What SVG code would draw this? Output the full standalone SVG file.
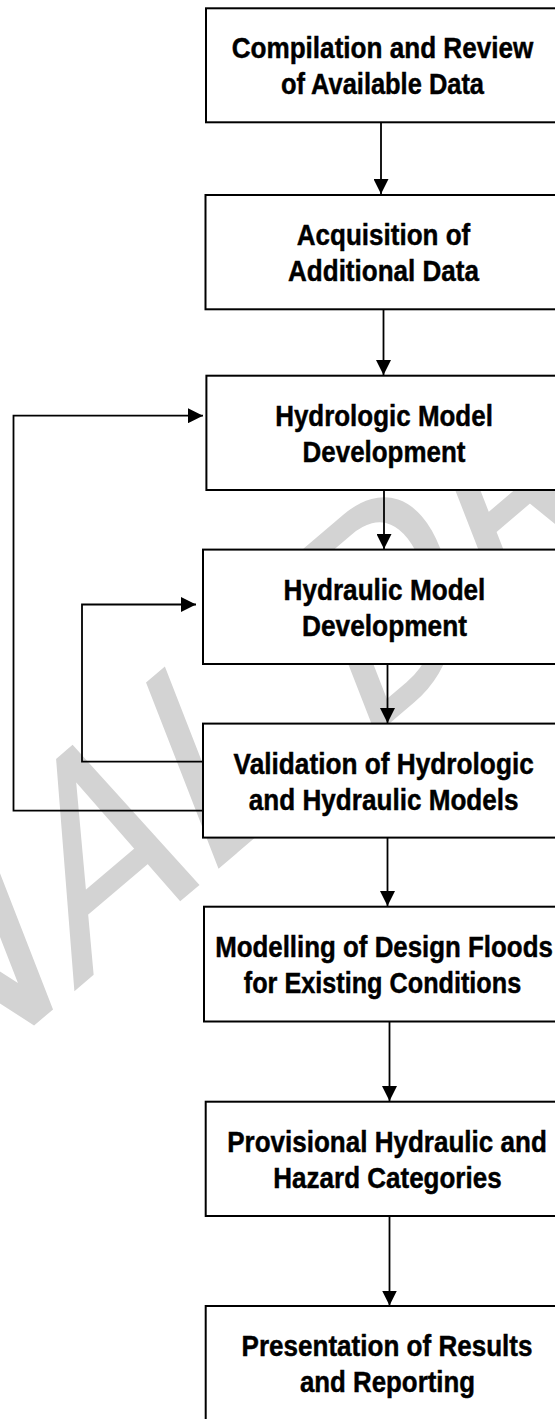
<svg xmlns="http://www.w3.org/2000/svg" width="555" height="1419" viewBox="0 0 555 1419">
  <defs>
    <style>
      .box { fill: #ffffff; stroke: #000000; stroke-width: 2; }
      .lbl { font-family: "Liberation Sans", Arial, sans-serif; font-weight: bold; font-size: 29.5px; fill: #000000; stroke: #000000; stroke-width: 0.45; text-anchor: middle; }
      .wire { fill: none; stroke: #000000; stroke-width: 1.8; }
      .mark { font-family: Roboto, "Liberation Sans", Arial, sans-serif; font-weight: 400; font-size: 100px; fill: #d3d3d3; }
    </style>
    <marker id="head" markerUnits="userSpaceOnUse" markerWidth="15" markerHeight="15" refX="15" refY="7.5" orient="auto">
      <path d="M0,0 L15,7.5 L0,15 Z" fill="#000000"/>
    </marker>
  </defs>

  <rect x="0" y="0" width="555" height="1419" fill="#ffffff"/>

  <!-- diagonal watermark behind the chart -->
  <g id="watermark">
    <text class="mark" transform="matrix(2.00,-1.70,1.02,2.62,-237.8,1256.6)" x="0" y="0">FINAL DRAFT</text>
  </g>

  <!-- connectors -->
  <g id="connectors">
    <line class="wire" x1="381" y1="122" x2="381" y2="194" marker-end="url(#head)"/>
    <line class="wire" x1="383.5" y1="309" x2="383.5" y2="375" marker-end="url(#head)"/>
    <line class="wire" x1="384" y1="490" x2="384" y2="549" marker-end="url(#head)"/>
    <line class="wire" x1="387.5" y1="664" x2="387.5" y2="723" marker-end="url(#head)"/>
    <line class="wire" x1="387.5" y1="837.5" x2="387.5" y2="906" marker-end="url(#head)"/>
    <line class="wire" x1="389.5" y1="1021.5" x2="389.5" y2="1101" marker-end="url(#head)"/>
    <line class="wire" x1="389.5" y1="1216" x2="389.5" y2="1305.5" marker-end="url(#head)"/>
    <polyline class="wire" points="204,810.7 13.5,810.7 13.5,415.7 203,415.7" marker-end="url(#head)"/>
    <polyline class="wire" points="202,761.7 82,761.7 82,604.5 196,604.5" marker-end="url(#head)"/>
  </g>

  <g id="n1">
    <rect class="box" x="206" y="8.3" width="360" height="114"/>
    <text class="lbl" x="382.5" y="58.3" textLength="301.6" lengthAdjust="spacingAndGlyphs">Compilation and Review</text>
    <text class="lbl" x="382.5" y="94.3" textLength="203" lengthAdjust="spacingAndGlyphs">of Available Data</text>
  </g>

  <g id="n2">
    <rect class="box" x="205.5" y="195" width="360" height="114.3"/>
    <text class="lbl" x="383.5" y="245" textLength="173.5" lengthAdjust="spacingAndGlyphs">Acquisition of</text>
    <text class="lbl" x="383.5" y="281" textLength="191" lengthAdjust="spacingAndGlyphs">Additional Data</text>
  </g>

  <g id="n3">
    <rect class="box" x="206.4" y="375.7" width="360" height="114.3"/>
    <text class="lbl" x="384" y="425.7" textLength="217.7" lengthAdjust="spacingAndGlyphs">Hydrologic Model</text>
    <text class="lbl" x="384" y="461.7" textLength="162.8" lengthAdjust="spacingAndGlyphs">Development</text>
  </g>

  <g id="n4">
    <rect class="box" x="203" y="549.6" width="360" height="114.4"/>
    <text class="lbl" x="384.5" y="599.6" textLength="201.8" lengthAdjust="spacingAndGlyphs">Hydraulic Model</text>
    <text class="lbl" x="384.5" y="635.6" textLength="165" lengthAdjust="spacingAndGlyphs">Development</text>
  </g>

  <g id="n5">
    <rect class="box" x="203" y="723.6" width="360" height="114"/>
    <text class="lbl" x="383.7" y="773.6" textLength="300.2" lengthAdjust="spacingAndGlyphs">Validation of Hydrologic</text>
    <text class="lbl" x="383.7" y="809.6" textLength="269.7" lengthAdjust="spacingAndGlyphs">and Hydraulic Models</text>
  </g>

  <g id="n6">
    <rect class="box" x="204" y="906.7" width="360" height="114.8"/>
    <text class="lbl" x="384" y="956.7" textLength="337.7" lengthAdjust="spacingAndGlyphs">Modelling of Design Floods</text>
    <text class="lbl" x="382.5" y="992.7" textLength="277.4" lengthAdjust="spacingAndGlyphs">for Existing Conditions</text>
  </g>

  <g id="n7">
    <rect class="box" x="205.7" y="1101.7" width="360" height="114.3"/>
    <text class="lbl" x="387" y="1151.7" textLength="319.6" lengthAdjust="spacingAndGlyphs">Provisional Hydraulic and</text>
    <text class="lbl" x="387.5" y="1187.7" textLength="228.3" lengthAdjust="spacingAndGlyphs">Hazard Categories</text>
  </g>

  <g id="n8">
    <rect class="box" x="205.7" y="1306" width="360" height="130"/>
    <text class="lbl" x="387" y="1356" textLength="291" lengthAdjust="spacingAndGlyphs">Presentation of Results</text>
    <text class="lbl" x="387.5" y="1392" textLength="175.2" lengthAdjust="spacingAndGlyphs">and Reporting</text>
  </g>
</svg>
